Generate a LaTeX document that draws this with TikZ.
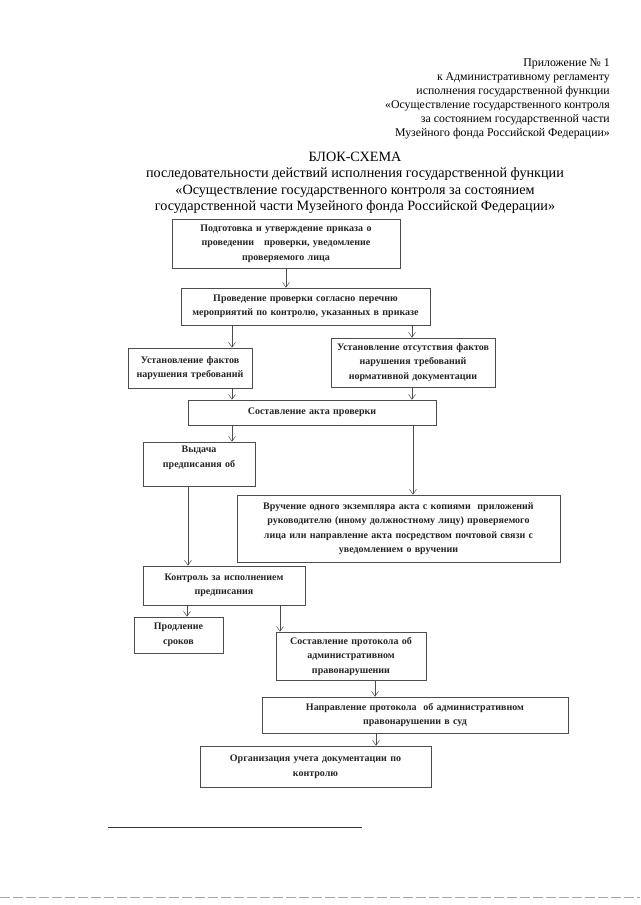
\documentclass[tikz,border=0pt]{standalone}
\usepackage{fontspec}
\setmainfont{Liberation Serif}
\usetikzlibrary{arrows.meta}
\tikzset{
  box/.style={draw=black!70, line width=0.6pt, align=center, inner sep=2pt,
    font=\bfseries\fontsize{10}{14.5}\selectfont, text=black!85},
  conn/.style={draw=black!70, line width=0.5pt, -{Straight Barb[length=5pt,width=7pt]}},
  hdr/.style={align=right, anchor=north east, inner sep=0pt, font=\fontsize{11.8}{14}\selectfont},
  ttl/.style={align=center, anchor=north, inner sep=0pt, font=\fontsize{14.2}{16.3}\selectfont}
}
\begin{document}
\begin{tikzpicture}[x=1pt,y=-1pt]
\useasboundingbox[fill=white] (0,0) rectangle (640,905);

\node[hdr] (hdr) at (610,59) {Приложение № 1\\
к Административному регламенту\\
исполнения государственной функции\\
«Осуществление государственного контроля\\
за состоянием государственной части\\
Музейного фонда Российской Федерации»};

\node[ttl] (ttl) at (355,152) {БЛОК-СХЕМА\\
последовательности действий исполнения государственной функции\\
«Осуществление государственного контроля за состоянием\\
государственной части Музейного фонда Российской Федерации»};

\node[box, minimum width=228pt, minimum height=49pt, text width=222pt] (b1) at (286,243.5)
  {Подготовка и утверждение приказа о\\ проведении \ \ проверки, уведомление\\ проверяемого лица};
\node[box, minimum width=249pt, minimum height=37pt, text width=243pt] (b2) at (305.5,306.5)
  {Проведение проверки согласно перечню\\ мероприятий по контролю, указанных в приказе};
\node[box, minimum width=124pt, minimum height=40pt, text width=118pt] (b3) at (190,368)
  {Установление фактов\\ нарушения требований};
\node[box, minimum width=164pt, minimum height=49pt, text width=158pt] (b4) at (413,362.5)
  {Установление отсутствия фактов\\ нарушения требований\\ нормативной документации};
\node[box, minimum width=248pt, minimum height=25pt, text width=240pt] (b5) at (312,412.5)
  {Составление акта проверки};
\node[box, minimum width=112pt, minimum height=44pt, text width=106pt] (b6) at (199,464)
  {Выдача\\ предписания об\\ \mbox{}};
\node[box, minimum width=323pt, minimum height=67pt, text width=317pt] (b7) at (398.5,528.5)
  {Вручение одного экземпляра акта с копиями \ приложений\\ руководителю (иному должностному лицу) проверяемого\\ лица или направление акта посредством почтовой связи с\\ уведомлением о вручении};
\node[box, minimum width=162pt, minimum height=39pt, text width=156pt] (b8) at (224,585.5)
  {Контроль за исполнением\\ предписания};
\node[box, minimum width=89pt, minimum height=36pt, text width=84pt] (b9) at (178.5,635)
  {Продление\\ сроков};
\node[box, minimum width=150pt, minimum height=48pt, text width=144pt] (b10) at (351,656)
  {Составление протокола об\\ административном\\ правонарушении};
\node[box, minimum width=306pt, minimum height=36pt, text width=300pt] (b11) at (415,715)
  {Направление протокола \ об административном\\ правонарушении в суд};
\node[box, minimum width=231pt, minimum height=41pt, text width=225pt] (b12) at (315.5,766.5)
  {Организация учета документации по\\ контролю};

\draw[conn] (b1.south) -- (b1.south |- b2.north);
\draw[conn] (b2.south -| 232,0) -- (b3.north -| 232,0);
\draw[conn] (b2.south -| 412,0) -- (b4.north -| 412,0);
\draw[conn] (b3.south -| 232,0) -- (b5.north -| 232,0);
\draw[conn] (b4.south -| 412,0) -- (b5.north -| 412,0);
\draw[conn] (b5.south -| 232,0) -- (b6.north -| 232,0);
\draw[conn] (b5.south -| 413,0) -- (b7.north -| 413,0);
\draw[conn] (b6.south -| 188,0) -- (b8.north -| 188,0);
\draw[conn] (b8.south -| 187,0) -- (b9.north -| 187,0);
\draw[conn] (b8.south -| 280,0) -- (b10.north -| 280,0);
\draw[conn] (b10.south -| 375,0) -- (b11.north -| 375,0);
\draw[conn] (b11.south -| 376,0) -- (b12.north -| 376,0);

\draw[black!80, line width=0.8pt] (108,827) -- (362,827);
\draw[black!35, line width=0.6pt, dash pattern=on 10pt off 3pt] (0,897) -- (640,897);
\end{tikzpicture}
\end{document}
